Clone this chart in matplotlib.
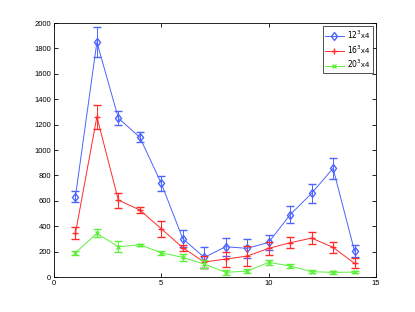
import numpy as np
import matplotlib
matplotlib.use('Agg')
import matplotlib.pyplot as plt

plt.rcParams['font.family'] = ['Liberation Sans', 'DejaVu Sans']

x = np.arange(1, 15)

# 12^3 x 4
blue_y = [632, 1850, 1252, 1100, 738, 302, 155, 239, 226, 273, 491, 659, 856, 205]
blue_err = [42, 120, 57, 40, 59, 66, 81, 71, 77, 59, 68, 73, 81, 50]

# 16^3 x 4
red_y = [344, 1262, 606, 528, 380, 231, 118, 142, 165, 226, 270, 307, 234, 108]
red_err = [47, 95, 59, 20, 63, 24, 47, 59, 81, 52, 43, 47, 46, 39]

# 20^3 x 4
green_y = [191, 344, 239, 254, 191, 155, 102, 37, 47, 116, 87, 42, 37, 39]
green_err = [14, 31, 45, 10, 14, 26, 33, 17, 13, 20, 13, 13, 10, 10]

labels = ['$12^3$x4', '$16^3$x4', '$20^3$x4']

fig = plt.figure(figsize=(4.15, 3.12), dpi=100)
ax = fig.add_axes([0.130, 0.112, 0.776, 0.814])

series = [(blue_y, blue_err, '#4a64ff', 'd', 4.5),
          (red_y, red_err, '#ff2a2a', '+', 5),
          (green_y, green_err, '#5cf03a', 'x', 3)]
handles = []
for (y, e, c, m, ms), lab in zip(series, labels):
    ax.errorbar(x, y, yerr=e, color=c, fmt='none', elinewidth=0.7, capsize=3)
    h, = ax.plot(x, y, color=c, marker=m, mfc='none', ms=ms, lw=0.7, label=lab)
    handles.append(h)

ax.set_xlim(0, 15)
ax.set_ylim(0, 2000)
ax.set_xticks([0, 5, 10, 15])
ax.set_yticks(range(0, 2001, 200))
ax.tick_params(direction='in', labelsize=5.5, length=3, width=0.6,
               top=True, right=True, pad=2)
for s in ax.spines.values():
    s.set_linewidth(0.6)

leg = ax.legend(handles=handles, loc='upper right', fontsize=5.5, fancybox=False,
                edgecolor='black', handlelength=2.4, handletextpad=0.5,
                borderpad=0.3, labelspacing=0.3, borderaxespad=0.4)
leg.get_frame().set_linewidth(0.6)

fig.savefig('out.png', dpi=100)
